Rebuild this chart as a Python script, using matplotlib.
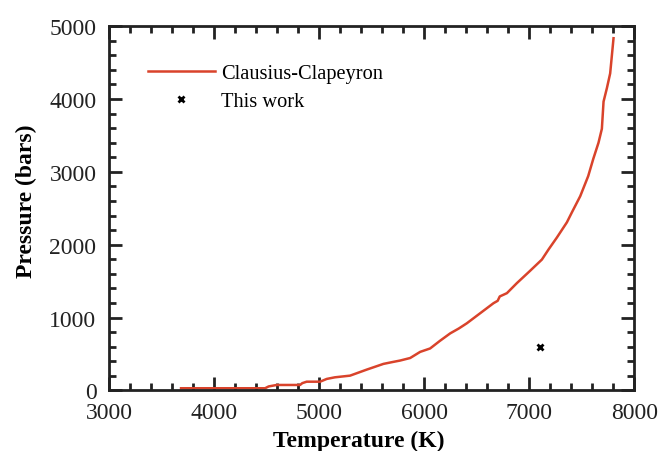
import matplotlib.pyplot as plt
from matplotlib.ticker import MultipleLocator

plt.rcParams['font.family'] = ['Liberation Serif', 'DejaVu Serif']

# Clausius-Clapeyron curve
cc_temp = [3686, 4486, 4520, 4597, 4819, 4840, 4882, 5010, 5073, 5150, 5295,
           5454, 5612, 5700, 5771, 5867, 5962, 6057, 6150, 6248, 6330, 6406,
           6533, 6660, 6700, 6720, 6788, 6883, 7000, 7121, 7184, 7264, 7359,
           7407, 7486, 7562, 7610, 7660, 7692, 7708, 7740, 7771, 7803]
cc_pres = [30, 30, 55, 75, 75, 100, 120, 120, 158, 180, 203,
           286, 364, 390, 410, 445, 529, 576, 680, 783, 850, 921,
           1059, 1197, 1230, 1290, 1335, 1473, 1630, 1796, 1934, 2099, 2307,
           2445, 2666, 2942, 3177, 3400, 3591, 3964, 4150, 4351, 4834]

# This work
tw_temp = [7100]
tw_pres = [590]

fig = plt.figure(figsize=(6.59, 4.52), dpi=100)
ax = fig.add_axes([0.1654, 0.134, 0.797, 0.806])

ax.plot(cc_temp, cc_pres, color='#d9432b', lw=1.8, label='Clausius-Clapeyron')
ax.plot(tw_temp, tw_pres, ls='none', marker='x', mew=2, ms=4, color='black',
        label='This work')

ax.set_xlim(3000, 8000)
ax.set_ylim(0, 5000)
ax.xaxis.set_major_locator(MultipleLocator(1000))
ax.xaxis.set_minor_locator(MultipleLocator(200))
ax.yaxis.set_major_locator(MultipleLocator(1000))
ax.yaxis.set_minor_locator(MultipleLocator(200))
ax.tick_params(which='both', direction='in', top=True, right=True, width=2,
               labelsize=17, colors='#222222')
ax.tick_params(which='major', length=9.5)
ax.tick_params(which='minor', length=5)
ax.tick_params(axis='x', which='major', pad=8)
ax.tick_params(axis='y', which='major', pad=9)
for s in ax.spines.values():
    s.set_linewidth(2)
    s.set_color('#222222')

ax.set_xlabel('Temperature (K)', fontsize=17, fontweight='bold', labelpad=5)
ax.set_ylabel('Pressure (bars)', fontsize=17, fontweight='bold', labelpad=9)
ax.xaxis.label.set_x(0.476)
ax.yaxis.label.set_y(0.522)

ax.legend(frameon=False, loc='upper left', bbox_to_anchor=(0.058, 0.92),
          fontsize=14.7, handlelength=3.3, handletextpad=0.3, labelspacing=0.45,
          borderaxespad=0)

fig.savefig('out.png', dpi=100)
